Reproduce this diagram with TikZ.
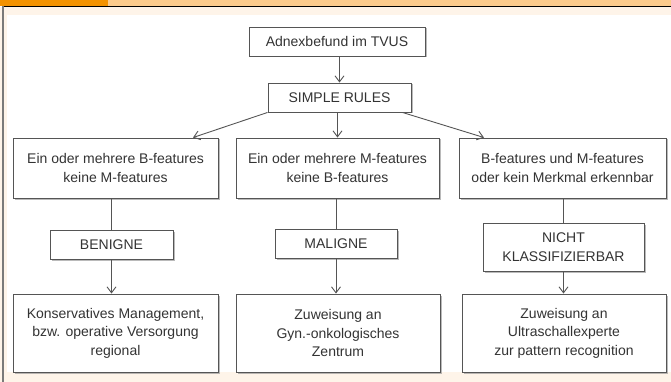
\documentclass[tikz,border=0pt]{standalone}
\usepackage{fontspec}
\setmainfont{Liberation Sans}
\usetikzlibrary{arrows.meta,shadows,calc}
\definecolor{darkorange}{HTML}{F39200}
\definecolor{lightorange}{HTML}{FCCB8C}
\definecolor{cream}{HTML}{FEF4E9}
\definecolor{framegray}{HTML}{7A7A7A}
\definecolor{linegray}{HTML}{555555}
\definecolor{txtgray}{HTML}{333333}
\tikzset{
  box/.style={draw=linegray, line width=0.9pt, fill=white, align=center,
    text=txtgray, font=\fontsize{14}{18.5}\selectfont, inner sep=0pt,
    drop shadow={shadow xshift=1.5pt, shadow yshift=-1.5pt, fill=black!45, opacity=0.6}},
  conn/.style={draw=linegray, line width=0.9pt},
  arr/.style={conn, -{Straight Barb[length=6pt,width=9pt]}},
}
\begin{document}
\begin{tikzpicture}[x=1pt,y=-1pt]
\useasboundingbox (0,0) rectangle (671,382);
% frame / background
\fill[white] (0,0) rectangle (671,382);
\fill[cream] (0,7) rectangle (671,382);
\fill[white] (7,15) rectangle (671,372);
\fill[darkorange] (0,0) rectangle (108,6);
\fill[lightorange] (108,0) rectangle (671,6);
\draw[black, line width=1.2pt] (2,6.5) -- (671,6.5);
\fill[framegray] (2,6.5) rectangle (4,382);
% nodes
\node[box, minimum width=176, minimum height=29] (top) at (337,41.5) {Adnexbefund im TVUS};
\node[box, minimum width=143, minimum height=29] (simple) at (339.5,97.5) {SIMPLE RULES};
\node[box, minimum width=205, minimum height=60] (b1) at (115.5,168) {Ein oder mehrere B-features\\keine M-features};
\node[box, minimum width=203, minimum height=60] (b2) at (337.5,168) {Ein oder mehrere M-features\\keine B-features};
\node[box, minimum width=207, minimum height=60] (b3) at (562.5,168) {B-features und M-features\\oder kein Merkmal erkennbar};
\node[box, minimum width=123, minimum height=29] (ben) at (111.5,244.5) {BENIGNE};
\node[box, minimum width=122, minimum height=29] (mal) at (336,243.5) {MALIGNE};
\node[box, minimum width=161, minimum height=48] (nk) at (563.5,247) {NICHT\\KLASSIFIZIERBAR};
\node[box, minimum width=205, minimum height=78] (c1) at (115.5,333) {Konservatives Management,\\bzw. operative Versorgung\\regional};
\node[box, minimum width=204, minimum height=78] (c2) at (338,333) {Zuweisung an\\Gyn.-onkologisches\\Zentrum};
\node[box, minimum width=204, minimum height=78] (c3) at (564,333) {Zuweisung an\\Ultraschallexperte\\zur pattern recognition};
% connectors
\draw[arr] (top.south -| simple.north) -- (simple.north);
\draw[arr] (simple.south west) -- ($(b1.north)+(77.5,0)$);
\draw[arr] (simple.south -| b2.north) -- (b2.north);
\draw[arr] ($(simple.south east)+(-9,0)$) -- ($(b3.north)+(-78.5,0)$);
\draw[conn] (b1.south -| ben.north) -- (ben.north);
\draw[conn] (b2.south -| mal.north) -- (mal.north);
\draw[conn] (b3.south -| nk.north) -- (nk.north);
\draw[arr] (ben.south) -- (c1.north -| ben.south);
\draw[arr] (mal.south) -- (c2.north -| mal.south);
\draw[arr] (nk.south) -- (c3.north -| nk.south);
\end{tikzpicture}
\end{document}
